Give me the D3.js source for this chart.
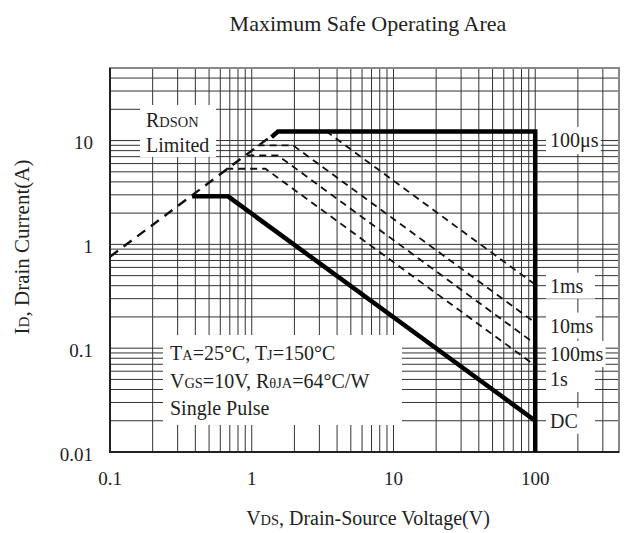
<!DOCTYPE html>
<html>
<head>
<meta charset="utf-8">
<script src="https://cdn.jsdelivr.net/npm/d3@7"></script>
<style>
  body { margin: 0; background: #fff; }
  svg text { font-family: 'Liberation Serif', 'Times New Roman', serif; fill: #222; }
</style>
</head>
<body>
<div id="chart-soa"></div>
<script>
// Datos
const xTicks = [0.1, 1, 10, 100];
const yTicks = [0.01, 0.1, 1, 10];
const xTickLabels = ["0.1", "1", "10", "100"];
const yTickLabels = ["0.01", "0.1", "1", "10"];

// RDSON limited (linea discontinua gruesa)
const rdsonV = [0.1, 1.45];
const rdsonI = [0.76, 11.7];

// curvas de pulso: V e I
const us100V = [1.38, 1.53, 100, 100];
const us100I = [10.8, 12.2, 12.2, 0.01];
const ms1V = [1.53, 3.37, 100];
const ms1I = [12.2, 12.2, 0.41];
const ms10V = [1.1, 1.96, 100];
const ms10I = [8.97, 8.97, 0.176];
const ms100V = [0.93, 1.53, 100];
const ms100I = [7.18, 7.18, 0.11];
const s1V = [0.66, 1.25, 100];
const s1I = [5.35, 5.35, 0.068];
const dcV = [0.38, 0.68, 100];
const dcI = [2.9, 2.9, 0.02];

// etiquetas a la derecha: texto y corriente donde va el centro
const curveLabels = ["100μs", "1ms", "10ms", "100ms", "1s", "DC"];
const curveLabelI = [10.1, 0.4, 0.165, 0.088, 0.0505, 0.02];

const svgWidth = 624, svgHeight = 533;
const plot = { left: 110, right: 619, top: 68, bottom: 452 };

const svg = d3.select("#chart-soa")
  .append("svg")
  .attr("width", svgWidth)
  .attr("height", svgHeight);

const x = d3.scaleLog().domain([0.1, 390]).range([plot.left, plot.right]);
const y = d3.scaleLog().domain([0.01, 50]).range([plot.bottom, plot.top]);

// rejilla (1..9 por decada)
const gridX = [], gridY = [];
[0.1, 1, 10, 100].forEach(d => d3.range(1, 10).forEach(k => {
  const v = +(k * d).toPrecision(3);
  if (v > 0.1 && v < 390) gridX.push(v);
}));
[0.01, 0.1, 1, 10].forEach(d => d3.range(1, 10).forEach(k => {
  const v = +(k * d).toPrecision(3);
  if (v > 0.01 && v < 50) gridY.push(v);
}));

const grid = svg.append("g").attr("stroke", "#333").attr("stroke-width", 1);
grid.selectAll(".gx").data(gridX).enter().append("line")
  .attr("x1", d => x(d)).attr("x2", d => x(d))
  .attr("y1", plot.top).attr("y2", plot.bottom);
grid.selectAll(".gy").data(gridY).enter().append("line")
  .attr("y1", d => y(d)).attr("y2", d => y(d))
  .attr("x1", plot.left).attr("x2", plot.right);

// cajas blancas que tapan la rejilla
const boxes = svg.append("g").attr("fill", "#fff");
boxes.append("rect").attr("x", 140).attr("y", 105).attr("width", 76).attr("height", 52);
boxes.append("rect").attr("x", 163).attr("y", 335).attr("width", 239).attr("height", 90);

// marco
svg.append("rect")
  .attr("x", plot.left).attr("y", plot.top)
  .attr("width", plot.right - plot.left).attr("height", plot.bottom - plot.top)
  .attr("fill", "none").attr("stroke", "#888").attr("stroke-width", 2);
svg.append("path")
  .attr("d", `M${plot.left},${plot.top}V${plot.bottom}H${plot.right}`)
  .attr("fill", "none").attr("stroke", "#222").attr("stroke-width", 2);

// etiquetas de curvas a la derecha con fondo blanco
const lab = svg.append("g").selectAll("g")
  .data(curveLabels).enter().append("g");
lab.append("rect").attr("class", "lbox").attr("fill", "#fff");
lab.append("text")
  .attr("x", 550)
  .attr("y", (d, i) => y(curveLabelI[i]))
  .attr("dy", "0.35em")
  .attr("font-size", 20)
  .text(d => d);
lab.each(function() {
  const t = d3.select(this).select("text").node().getBBox();
  d3.select(this).select("rect")
    .attr("x", 546).attr("y", t.y - 2)
    .attr("width", Math.max(49, t.x + t.width + 2 - 546))
    .attr("height", t.height + 4);
});

const line = d3.line().x(d => x(d[0])).y(d => y(d[1]));
const pts = (vs, is) => vs.map((v, i) => [v, is[i]]);

// curvas discontinuas
[[ms1V, ms1I], [ms10V, ms10I], [ms100V, ms100I], [s1V, s1I]].forEach(c => {
  svg.append("path").datum(pts(c[0], c[1])).attr("d", line)
    .attr("fill", "none").attr("stroke", "#111")
    .attr("stroke-width", 1.8).attr("stroke-dasharray", "7,5");
});
svg.append("path").datum(pts(rdsonV, rdsonI)).attr("d", line)
  .attr("fill", "none").attr("stroke", "#111")
  .attr("stroke-width", 2.4).attr("stroke-dasharray", "10,7");

// curvas gruesas
[[us100V, us100I], [dcV, dcI]].forEach(c => {
  svg.append("path").datum(pts(c[0], c[1])).attr("d", line)
    .attr("fill", "none").attr("stroke", "#000")
    .attr("stroke-width", 4.5).attr("stroke-linejoin", "miter");
});

// ejes (solo textos)
svg.append("g").selectAll("text").data(xTicks).enter().append("text")
  .attr("x", d => x(d)).attr("y", 485)
  .attr("text-anchor", "middle").attr("font-size", 19)
  .text((d, i) => xTickLabels[i]);
svg.append("g").selectAll("text").data(yTicks).enter().append("text")
  .attr("x", 93).attr("y", d => y(d) + 2).attr("dy", "0.35em")
  .attr("text-anchor", "end").attr("font-size", 19)
  .text((d, i) => yTickLabels[i]);

// titulo
svg.append("text").attr("x", 368).attr("y", 31)
  .attr("text-anchor", "middle").attr("font-size", 22)
  .text("Maximum Safe Operating Area");

// texto con letras pequeñas tipo subindice
function smallCaps(sel, parts, size) {
  parts.forEach(p => sel.append("tspan")
    .attr("font-size", p[1] ? size * 0.72 : size)
    .text(p[0]));
}

const xt = svg.append("text").attr("x", 368).attr("y", 525)
  .attr("text-anchor", "middle").attr("font-size", 20);
smallCaps(xt, [["V", 0], ["DS", 1], [", Drain-Source Voltage(V)", 0]], 20);

const yt = svg.append("text")
  .attr("transform", "translate(29,247) rotate(-90)")
  .attr("text-anchor", "middle").attr("font-size", 21);
smallCaps(yt, [["I", 0], ["D", 1], [", Drain Current(A)", 0]], 21);

const r1 = svg.append("text").attr("x", 146).attr("y", 127).attr("font-size", 20);
smallCaps(r1, [["R", 0], ["DSON", 1]], 20);
svg.append("text").attr("x", 146).attr("y", 152).attr("font-size", 20).text("Limited");

const l1 = svg.append("text").attr("x", 170).attr("y", 360).attr("font-size", 20);
smallCaps(l1, [["T", 0], ["A", 1], ["=25°C, T", 0], ["J", 1], ["=150°C", 0]], 20);
const l2 = svg.append("text").attr("x", 170).attr("y", 388).attr("font-size", 20);
smallCaps(l2, [["V", 0], ["GS", 1], ["=10V, R", 0], ["θJA", 1], ["=64°C/W", 0]], 20);
svg.append("text").attr("x", 170).attr("y", 415).attr("font-size", 20).text("Single Pulse");
</script>
</body>
</html>
